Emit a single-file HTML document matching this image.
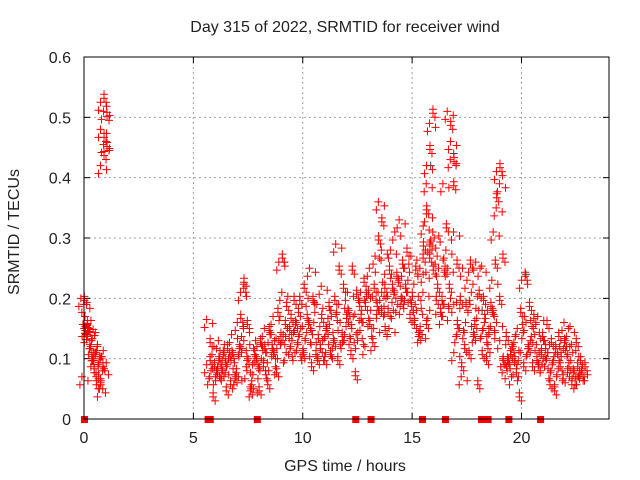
<!DOCTYPE html>
<html><head><meta charset="utf-8"><style>
html,body{margin:0;padding:0;background:#fff;}
svg{display:block;font-family:"Liberation Sans",sans-serif;}
</style></head><body>
<svg id="chart" width="640" height="480" viewBox="0 0 640 480">
<rect width="640" height="480" fill="#fff"/>
<text x="345" y="32" font-size="16" text-anchor="middle" fill="#222">Day 315 of 2022, SRMTID for receiver wind</text>
<text transform="translate(19,232) rotate(-90)" font-size="16" text-anchor="middle" fill="#222">SRMTID / TECUs</text>
<text x="345" y="471" font-size="16" text-anchor="middle" fill="#222">GPS time / hours</text>
<g id="grid"></g>
<g id="ticks"></g>
<g id="marks"></g>
<rect x="84" y="57" width="525" height="362" fill="none" stroke="#000" stroke-width="1"/>
</svg>
<script>
const xTicks=[0,5,10,15,20];
const yTicks=[0,0.1,0.2,0.3,0.4,0.5,0.6];
const yTickLabels=["0","0.1","0.2","0.3","0.4","0.5","0.6"];
const groupHours=[0.05,0.1,0.2,0.3,0.4,0.5,0.6,0.7,0.8,0.9,0.95,
5.8,6.0,6.2,6.4,6.6,6.8,7.0,7.2,7.35,7.5,7.7,7.9,8.1,8.3,8.5,8.7,8.9,9.1,9.3,9.5,9.7,9.9,
10.1,10.3,10.5,10.7,10.9,11.1,11.3,11.5,11.7,11.9,12.1,12.3,12.5,12.7,12.9,13.1,13.3,13.5,13.65,13.8,
14.0,14.2,14.4,14.6,14.8,15.0,15.2,15.4,15.55,15.7,15.85,16.0,16.2,16.4,16.6,16.8,16.95,17.1,17.3,17.5,17.7,17.9,
18.1,18.3,18.5,18.7,18.9,19.05,19.2,19.4,19.6,19.8,20.0,20.2,20.4,20.6,20.8,21.0,21.2,21.4,21.6,21.8,22.0,22.2,22.4,22.6,22.8];
const groupValues=[[.19,.2,.18,.16],[.06,.15,.16],[.14,.155,.145],[.13,.12,.14],[.135,.1,.12],[.11,.08,.1],[.09,.06,.1],[.1,.07,.08],[.11,.06,.09],[.04,.09,.07],[.41,.44,.445,.455,.47,.47,.5,.505,.515,.535],
[.08,.1,.06,.04,.155,.13],[.07,.09,.11,.08],[.06,.1,.12,.08],[.09,.11,.07,.05],[.1,.12,.08,.06],[.09,.11,.13,.07],[.1,.08,.06,.12],[.15,.17,.11,.22],[.2,.23,.14,.1],[.12,.16,.07,.05],[.09,.06,.04,.11],[.08,.1,.12,.05],[.11,.13,.07,.09],[.09,.12,.14,.06],[.1,.15,.07,.12],[.13,.11,.16,.08],[.12,.18,.09,.14],[.25,.27,.2,.16,.12],[.13,.19,.1,.15],[.14,.17,.11,.2],[.12,.16,.1,.18],[.15,.2,.13,.11],
[.14,.22,.1,.17],[.12,.16,.19,.09],[.24,.2,.13,.11],[.15,.1,.18,.12],[.13,.17,.21,.1],[.12,.15,.1,.19],[.14,.11,.17,.13],[.16,.2,.12,.1],[.28,.25,.18,.14],[.15,.22,.12,.17],[.13,.18,.2,.11],[.17,.25,.14,.075],[.16,.21,.13,.19],[.12,.17,.2,.23],[.15,.19,.11,.21],[.2,.16,.24,.13],[.17,.22,.14,.19],[.26,.3,.2,.18],[.35,.33,.27,.22,.17],[.2,.15,.23,.18],
[.19,.25,.14,.22],[.27,.21,.17,.24],[.3,.23,.18,.2],[.32,.26,.19,.22],[.24,.28,.2,.17],[.22,.19,.26,.16],[.2,.25,.18,.14],[.17,.15,.13,.27],[.24,.29,.2,.16],[.31,.35,.38,.27,.23],[.41,.45,.48,.51,.33,.29],[.28,.25,.3,.2,.17],[.29,.22,.26,.18],[.24,.2,.16,.25],[.38,.32,.27,.22,.18],[.5,.49,.42,.39,.24],[.45,.43,.3,.26,.19],[.18,.16,.13,.2,.1],[.14,.09,.06,.12],[.24,.19,.15,.11],[.22,.26,.18,.14],[.2,.16,.13,.06],
[.25,.21,.17,.11],[.24,.2,.14,.1],[.15,.12,.17,.19],[.14,.18,.22,.26,.13],[.3,.37,.34,.2],[.4,.42,.38,.27,.15],[.12,.1,.09,.14],[.08,.1,.07,.11],[.09,.12,.06,.1],[.11,.08,.13,.04],[.14,.18,.1,.09],[.22,.24,.16,.12],[.15,.19,.11,.09],[.12,.17,.14,.1],[.13,.09,.16,.11],[.1,.14,.08,.12],[.12,.16,.09,.06],[.1,.13,.07,.05],[.08,.12,.1,.14],[.06,.09,.11,.07],[.1,.13,.15,.08],[.12,.09,.14,.06],[.11,.08,.1,.13],[.07,.09,.06,.1],[.06,.08,.07,.09]];
const greyHours=[9.15,15.85,16.9,20.2,14.5,18.2];
const greyValues=[.26,.42,.44,.24,.2,.18];
const zeroHours=[0,5.65,5.75,7.9,12.4,13.1,15.45,16.5,18.15,18.45,19.4,20.85];

const NS="http://www.w3.org/2000/svg";
const X0=84,X1=609,Y0=419,Y1=57,XMAX=24,YMAX=0.6;
function xs(h){return X0+(X1-X0)*h/XMAX;}
function ys(v){return Y0-(Y0-Y1)*v/YMAX;}
function mk(tag,attrs,parent){const e=document.createElementNS(NS,tag);for(const k in attrs)e.setAttribute(k,attrs[k]);parent.appendChild(e);return e;}
const grid=document.getElementById('grid'),ticks=document.getElementById('ticks'),marks=document.getElementById('marks');
xTicks.forEach((t,i)=>{
  const x=xs(t);
  if(t>0){const g=mk('line',{x1:x,y1:Y0,x2:x,y2:Y1,stroke:'#a0a0a0','stroke-dasharray':'2,3'},grid);
  
  }
  mk('line',{x1:x,y1:Y0,x2:x,y2:Y0-6,stroke:'#000'},ticks);
  mk('line',{x1:x,y1:Y1,x2:x,y2:Y1+6,stroke:'#000'},ticks);
  const l=mk('text',{x:x,y:443,'font-size':16,'text-anchor':'middle',fill:'#222'},ticks);
  l.textContent=String(t);
  
  
});
yTicks.forEach((t,i)=>{
  const y=ys(t);
  if(t>0&&t<YMAX){const g=mk('line',{x1:X0,y1:y,x2:X1,y2:y,stroke:'#a0a0a0','stroke-dasharray':'2,3'},grid);
  
  }
  mk('line',{x1:X0,y1:y,x2:X0+6,y2:y,stroke:'#000'},ticks);
  mk('line',{x1:X1,y1:y,x2:X1-6,y2:y,stroke:'#000'},ticks);
  const l=mk('text',{x:71,y:y+6,'font-size':16,'text-anchor':'end',fill:'#222'},ticks);
  l.textContent=yTickLabels[i];
  
  
});
function plus(x,y,color){
  const p=mk('path',{d:`M${x-4} ${y}H${x+4}M${x} ${y-4}V${y+4}`,stroke:color,'stroke-width':1,fill:'none'},marks);
  
  
}
greyHours.forEach((h,i)=>plus(xs(h),ys(greyValues[i]),'#404040'));
const dx=[-2,2,0],dy=[-2,2,6];
groupHours.forEach((h,i)=>{groupValues[i].forEach((v,j)=>{
  const x=xs(h)+((j%4)-1.5)*1.5, y=ys(v);
  for(let k=0;k<3;k++) plus(x+dx[k]+((j+k)%2?2:-2),y+dy[k]*((j%2)?1:-1),'#ff0000');
});});
zeroHours.forEach(h=>{
  const r=mk('rect',{x:xs(h)-3,y:Y0-3,width:7,height:7,fill:'#ff0000'},marks);
  
  
});
</script>
</body></html>
